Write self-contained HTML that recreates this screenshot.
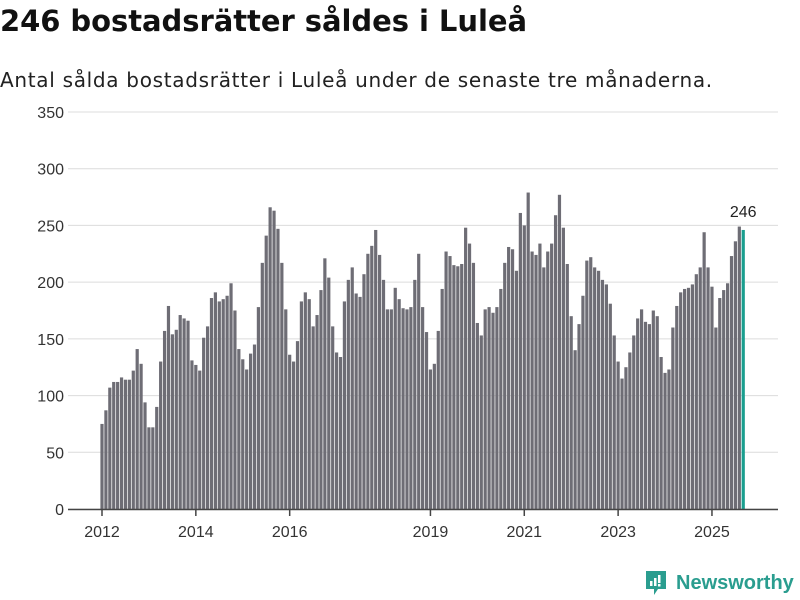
<!DOCTYPE html>
<html><head><meta charset="utf-8"><style>
body{margin:0;width:800px;height:600px;background:#fff;font-family:"Liberation Sans","DejaVu Sans",sans-serif;overflow:hidden;position:relative}
h1{position:absolute;left:0;top:4px;margin:0;font-family:"DejaVu Sans",sans-serif;font-size:29px;font-weight:bold;color:#111;letter-spacing:-0.05px}
.sub{position:absolute;left:0;top:68px;font-family:"DejaVu Sans",sans-serif;font-size:20px;color:#222;letter-spacing:0.7px}
svg{position:absolute;left:0;top:0}
.logo{position:absolute;left:644px;top:568px;height:30px;display:flex;align-items:center}
.logo span{color:#2a9d8f;font-weight:bold;font-size:20px;margin-left:8px}
</style></head><body>
<h1>246 bostadsrätter såldes i Luleå</h1>
<div class="sub">Antal sålda bostadsrätter i Luleå under de senaste tre månaderna.</div>
<svg id="chart" width="800" height="600"></svg>
<div class="logo">
<svg width="24" height="28" viewBox="0 0 24 28" style="position:static"><path d="M2 2h20v18h-8l-4 6v-6H2z" fill="#2a9d8f"/><rect x="6" y="12" width="2.5" height="5" fill="#fff"/><rect x="10" y="9" width="2.5" height="8" fill="#fff"/><rect x="14" y="6" width="2.5" height="8" fill="#fff"/><rect x="14" y="15" width="2.5" height="2.5" fill="#fff"/></svg>
<span>Newsworthy</span></div>
<script>
const values=[75,87,107,112,112,116,114,114,122,141,128,94,72,72,90,130,157,179,154,158,171,168,166,131,127,122,151,161,186,191,183,185,188,199,175,141,132,123,137,145,178,217,241,266,263,247,217,176,136,130,148,183,191,185,161,171,193,221,204,161,138,134,183,202,213,190,187,207,225,232,246,224,202,176,176,195,185,177,176,178,202,225,178,156,123,128,157,194,227,223,215,214,216,248,234,217,164,153,176,178,173,178,194,217,231,229,210,261,250,279,227,224,234,213,227,234,259,277,248,216,170,140,163,188,219,222,213,210,202,198,181,153,130,115,125,138,153,168,176,165,163,175,170,134,120,123,160,179,191,194,195,198,207,213,244,213,196,160,186,193,199,223,236,249,246];
const yTicks=[0,50,100,150,200,250,300,350];
const xTickLabels=["2012","2014","2016","2019","2021","2023","2025"];
const xTickIndex=[0,24,48,84,108,132,156];
const NS="http://www.w3.org/2000/svg";
const svg=document.getElementById('chart');
const y=v=>509-v*(397/350);
const x=i=>102+i*3.91;
function mk(t,a){const e=document.createElementNS(NS,t);for(const k in a)e.setAttribute(k,a[k]);svg.appendChild(e);return e;}
yTicks.forEach(t=>{
 const g=mk('line',{x1:68,x2:778,y1:y(t),y2:y(t),stroke:'#dcdcdc','stroke-width':1});
 
 
 const l=mk('text',{x:64,y:y(t)+6,'text-anchor':'end','font-size':16,fill:'#333'});
 l.textContent=t;
 
 
});
values.forEach((v,i)=>{
 const last=i===values.length-1;
 const r=mk('rect',{x:x(i)-1.6,y:y(v),width:3.2,height:509-y(v),fill:last?'#1a9e8f':'#6e6d75'});
 
 
});
const ax=mk('line',{x1:68,x2:778,y1:509.5,y2:509.5,stroke:'#444','stroke-width':1.5});


xTickLabels.forEach((lab,k)=>{
 const xi=x(xTickIndex[k]);
 const tk=mk('line',{x1:xi,x2:xi,y1:509,y2:516,stroke:'#444','stroke-width':1.5});
 
 
 const t=mk('text',{x:xi,y:537,'text-anchor':'middle','font-size':16,fill:'#333'});
 t.textContent=lab;
 
 
});
const li=values.length-1;
const vl=mk('text',{x:x(li),y:y(values[li])-13,'text-anchor':'middle','font-size':16,fill:'#222'});
vl.textContent=values[li];


</script>
</body></html>
